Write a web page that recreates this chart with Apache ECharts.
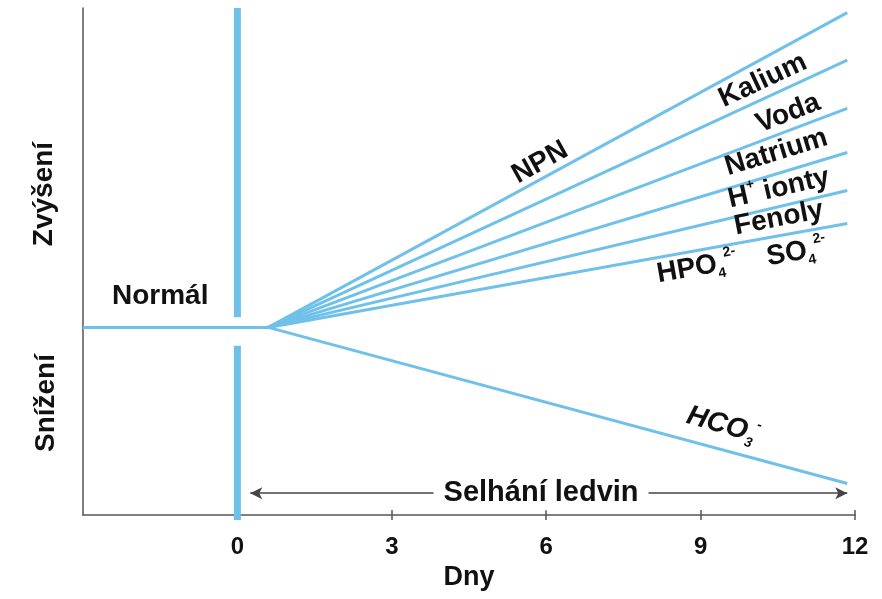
<!DOCTYPE html>
<html>
<head>
<meta charset="utf-8">
<script src="https://cdn.jsdelivr.net/npm/echarts@6/dist/echarts.min.js"></script>
<style>
  html, body { margin: 0; padding: 0; background: #fff; }
  #chart { width: 882px; height: 599px; }
</style>
</head>
<body>
<div id="chart"></div>
<script>
// dny (x) a relativní úroveň (y), 0 = normál
const dayTicks = [0, 3, 6, 9, 12]
const tickMarks = [3, 6, 9, 12]
const normalFrom = -3
const failureStart = 0.6
const failureEnd = 11.85
const substances = ['NPN', 'Kalium', 'Voda', 'Natrium', 'H+ ionty', 'Fenoly', 'HCO3-']
const endLevels = [62.1, 52.7, 43.2, 34.5, 27.0, 20.5, -30.8]
const barTop = 63
const gapTop = 2.0
const gapBottom = -3.6
const barBottom = -38

const BLUE = '#70c1e9'
const INK = '#111'
const FONT = 'Liberation Sans, Arial, sans-serif'

// popisky (text, poloha v datových souřadnicích, natočení)
const annotations = [
  { text: 'NPN', at: [5.88, 32.5], rotate: 29 },
  { text: 'Kalium', at: [10.21, 48.7], rotate: 25 },
  { text: 'Voda', at: [10.70, 42.2], rotate: 21 },
  { text: 'Natrium', at: [10.47, 34.5], rotate: 17 },
  { text: 'H{sup|+} ionty', at: [10.52, 27.4], rotate: 13 },
  { text: 'Fenoly', at: [10.52, 21.5], rotate: 11 },
  { text: 'HPO{sub|4}{sup|2-}', at: [8.93, 11.8], rotate: 10 },
  { text: 'SO{sub|4}{sup|2-}', at: [10.87, 14.8], rotate: 10 },
  { text: 'HCO{sub|3}{sup|-}', at: [9.44, -19.3], rotate: -16, italic: true },
  { text: 'Normál', at: [-1.5, 6.1], rotate: 0 }
]
const arrowLevel = -32.7
const arrowFrom = 0.25
const arrowText = 'Selhání ledvin'

const chart = echarts.init(document.getElementById('chart'))

const series = []

// normální hladina
series.push({
  type: 'line', symbol: 'none', silent: true, z: 4,
  lineStyle: { color: BLUE, width: 3 },
  data: [[normalFrom, 0], [failureStart, 0]]
})

// rozbíhající se přímky
substances.forEach((name, i) => {
  series.push({
    name: name, type: 'line', symbol: 'none', silent: true, z: 4,
    lineStyle: { color: BLUE, width: 3 },
    data: [[failureStart, 0], [failureEnd, endLevels[i]]]
  })
})

// svislý pruh v den 0 (s mezerou pro normál)
series.push({
  type: 'line', symbol: 'none', silent: true, z: 5, clip: false,
  lineStyle: { color: BLUE, width: 7, cap: 'butt' },
  data: [[0, barTop], [0, gapTop]]
})
series.push({
  type: 'line', symbol: 'none', silent: true, z: 5, clip: false,
  lineStyle: { color: BLUE, width: 7, cap: 'butt' },
  data: [[0, gapBottom], [0, barBottom]]
})

// šipka selhání ledvin
series.push({
  type: 'line', data: [], silent: true, z: 3,
  markLine: {
    silent: true,
    symbol: ['arrow', 'arrow'],
    symbolSize: [9, 12],
    label: { show: false },
    lineStyle: { color: '#444', width: 1.5, type: 'solid' },
    data: [[{ coord: [arrowFrom, arrowLevel] }, { coord: [failureEnd, arrowLevel] }]]
  }
})

const richSubSup = {
  sub: { fontSize: 14, fontWeight: 'bold', fontFamily: FONT, color: INK, verticalAlign: 'bottom', lineHeight: 14 },
  sup: { fontSize: 14, fontWeight: 'bold', fontFamily: FONT, color: INK, verticalAlign: 'top', lineHeight: 14 }
}

series.push({
  type: 'scatter', symbolSize: 0, silent: true, z: 10,
  itemStyle: { opacity: 1 },
  label: {
    show: true, position: 'inside', color: INK, opacity: 1,
    fontSize: 28, fontWeight: 'bold', fontFamily: FONT, lineHeight: 34
  },
  data: annotations.map(a => ({
    value: a.at,
    label: {
      formatter: a.text,
      rotate: a.rotate,
      fontStyle: a.italic ? 'italic' : 'normal',
      rich: richSubSup
    }
  })).concat([{
    value: [(arrowFrom + failureEnd) / 2 - 0.15, arrowLevel],
    label: {
      formatter: arrowText, fontSize: 29,
      backgroundColor: '#fff', padding: [0, 10]
    }
  }])
})

const option = {
  animation: false,
  backgroundColor: '#fff',
  grid: { left: 83, right: 27, top: 8, bottom: 84 },
  xAxis: [{
    type: 'value', min: normalFrom, max: 12, interval: 3,
    axisLine: { onZero: false, lineStyle: { color: '#555', width: 1.5 } },
    axisTick: { show: true, length: 5, customValues: tickMarks, lineStyle: { color: '#555', width: 1.5 } },
    splitLine: { show: false },
    axisLabel: {
      margin: 20, fontSize: 24, fontWeight: 'bold', fontFamily: FONT, color: INK,
      customValues: dayTicks
    },
    name: 'Dny', nameLocation: 'middle', nameGap: 49,
    nameTextStyle: { fontSize: 27, fontWeight: 'bold', fontFamily: FONT, color: INK }
  }, {
    type: 'value', min: normalFrom, max: 12, interval: 3, position: 'bottom',
    axisLine: { show: false, onZero: false },
    axisTick: { show: true, inside: true, length: 5, customValues: tickMarks, lineStyle: { color: '#555', width: 1.5 } },
    axisLabel: { show: false },
    splitLine: { show: false }
  }],
  yAxis: {
    type: 'value', min: -37, max: 63,
    axisLine: { show: true, onZero: false, lineStyle: { color: '#555', width: 1.5 } },
    axisTick: { show: false },
    axisLabel: { show: false },
    splitLine: { show: false }
  },
  graphic: [
    {
      type: 'text', x: 44, y: 194, rotation: Math.PI / 2,
      style: { text: 'Zvýšení', fill: INK, font: 'bold 28px ' + FONT, align: 'center', verticalAlign: 'middle' }
    },
    {
      type: 'text', x: 46, y: 403, rotation: Math.PI / 2,
      style: { text: 'Snížení', fill: INK, font: 'bold 28px ' + FONT, align: 'center', verticalAlign: 'middle' }
    }
  ],
  series: series
}

chart.setOption(option)
</script>
</body>
</html>
